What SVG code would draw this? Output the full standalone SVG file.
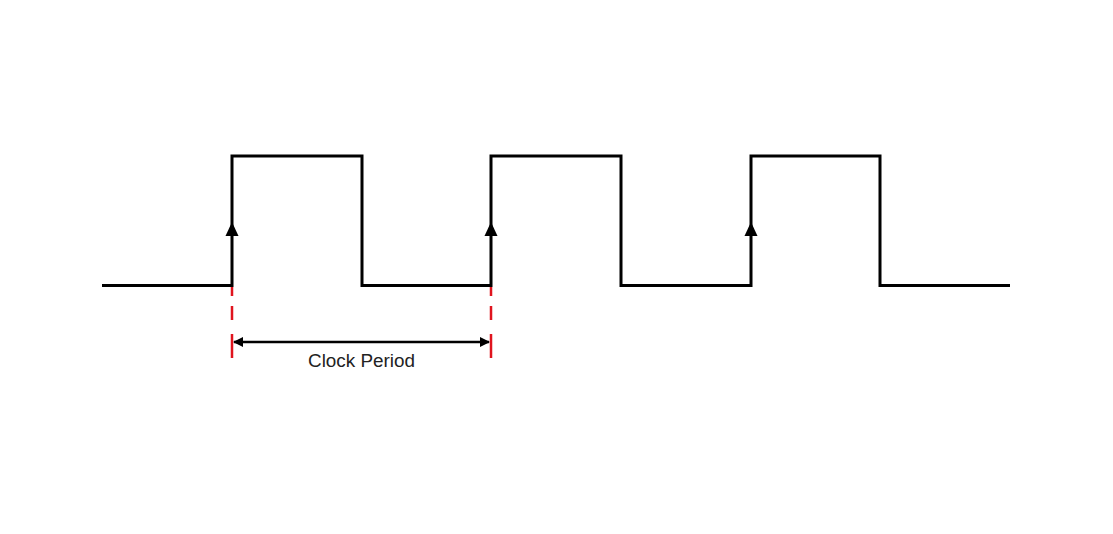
<svg xmlns="http://www.w3.org/2000/svg" width="1113" height="534" viewBox="0 0 1113 534">
<style>
.sig{fill:none;stroke:#000;stroke-width:3;stroke-linejoin:miter}
.red{stroke:#e0141e;stroke-width:2.5;stroke-dasharray:9,10,14,14,24,100}
.dim{stroke:#000;stroke-width:2.5}
.lbl{font-family:"Liberation Sans",Arial,sans-serif;font-size:18px;fill:#222}
</style>
<defs>
<marker id="ah" markerWidth="10" markerHeight="10" refX="9" refY="5" orient="auto" markerUnits="userSpaceOnUse" viewBox="0 0 10 10">
<path d="M0,0 L10,5 L0,10 Z" fill="#000"/>
</marker>
<marker id="ahs" markerWidth="10" markerHeight="10" refX="1" refY="5" orient="auto" markerUnits="userSpaceOnUse" viewBox="0 0 10 10">
<path d="M10,0 L0,5 L10,10 Z" fill="#000"/>
</marker>
</defs>
<rect width="1113" height="534" fill="#fff"/>
<g id="clock-signal">
<path class="sig" d="M102,285.5 H232 V156 H362 V285.5 H491 V156 H621 V285.5 H751 V156 H880 V285.5 H1010"/>
</g>
<g id="edge-arrows">
<path d="M232,222 L225.5,236 L238.5,236 Z" fill="#000"/>
<path d="M491,222 L484.5,236 L497.5,236 Z" fill="#000"/>
<path d="M751,222 L744.5,236 L757.5,236 Z" fill="#000"/>
</g>
<g id="connectors">
<line class="red" x1="232" y1="287" x2="232" y2="358"/>
<line class="red" x1="491" y1="287" x2="491" y2="358"/>
<line class="dim" x1="234" y1="342" x2="489" y2="342" marker-start="url(#ahs)" marker-end="url(#ah)"/>
</g>
<g id="label">
<text class="lbl" x="361.5" y="367" text-anchor="middle" textLength="107" lengthAdjust="spacingAndGlyphs">Clock Period</text>
</g>
</svg>
